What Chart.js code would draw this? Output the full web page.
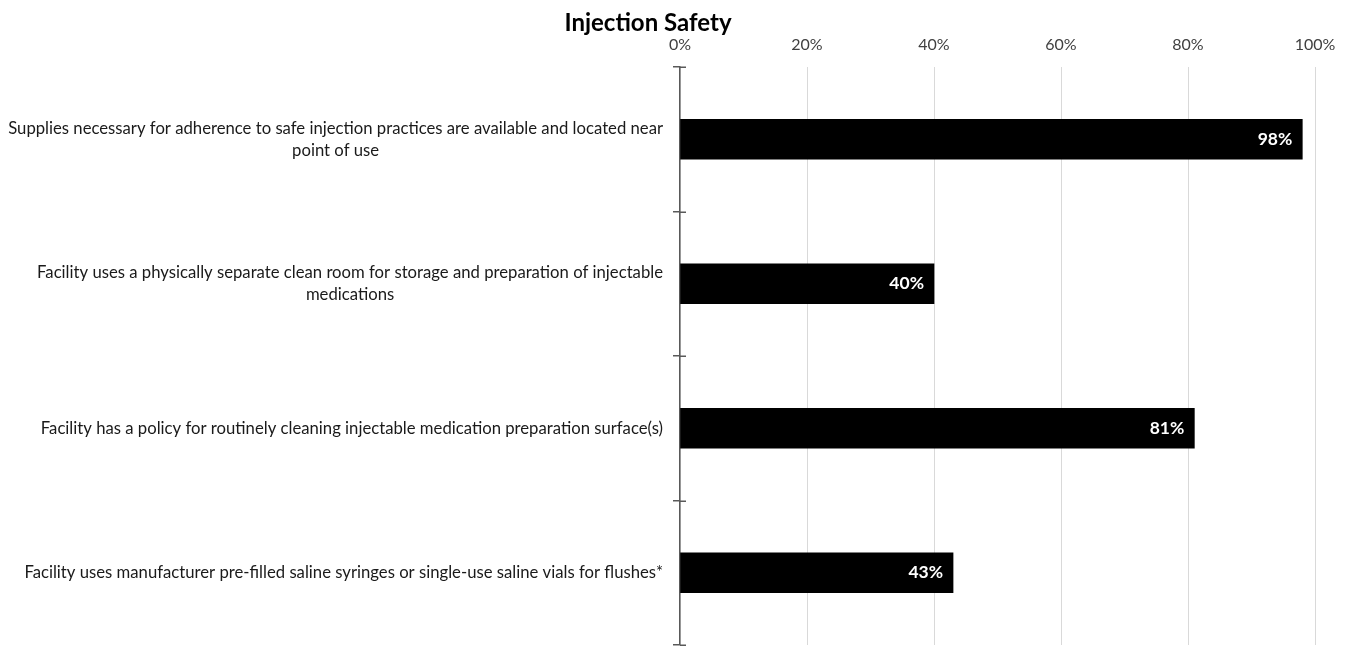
<!DOCTYPE html>
<html>
<head>
<meta charset="utf-8">
<script src="https://cdn.jsdelivr.net/npm/chart.js@4/dist/chart.umd.min.js"></script>
<style>
html,body{margin:0;padding:0;background:#fff;}
#wrap{width:1353px;height:648px;position:relative;}
</style>
</head>
<body>
<div id="wrap"><canvas id="c"></canvas></div>
<script>
const chartTitle = "Injection Safety";
const categories = [
  ["Supplies necessary for adherence to safe injection practices are available and located near", "point of use"],
  ["Facility uses a physically separate clean room for storage and preparation of injectable", "medications"],
  ["Facility has a policy for routinely cleaning injectable medication preparation surface(s)"],
  ["Facility uses manufacturer pre-filled saline syringes or single-use saline vials for flushes*"]
];
const values = [98, 40, 81, 43];
const tickValues = [0, 20, 40, 60, 80, 100];

const FONT = "Lato, 'Open Sans', sans-serif";

const labelPlugin = {
  id: 'customLabels',
  afterDraw(chart) {
    const ctx = chart.ctx;
    const y = chart.scales.y;
    const ca = chart.chartArea;
    ctx.save();
    // title
    ctx.font = "bold 24px " + FONT;
    ctx.fillStyle = "#000";
    ctx.textAlign = "center";
    ctx.textBaseline = "middle";
    ctx.fillText(chartTitle, 648, 23);
    // category labels: right-aligned block, lines centered
    ctx.font = "16.7px " + FONT;
    ctx.fillStyle = "#1a1a1a";
    const rightEdge = ca.left - 17;
    const lh = 22;
    categories.forEach((lines, i) => {
      const cy = y.getPixelForValue(i);
      const w = Math.max(...lines.map(l => ctx.measureText(l).width));
      const cx = rightEdge - w / 2;
      lines.forEach((l, j) => {
        ctx.fillText(l, cx, cy + (j - (lines.length - 1) / 2) * lh);
      });
    });
    // right-side halves of y tick marks
    ctx.strokeStyle = "#595959";
    ctx.lineWidth = 1.5;
    ctx.beginPath();
    for (let i = 0; i <= categories.length; i++) {
      const py = Math.round(y.getPixelForValue(i - 0.5)) + 0.25;
      ctx.moveTo(ca.left, py);
      ctx.lineTo(ca.left + 6, py);
    }
    ctx.stroke();
    ctx.restore();
  },
  afterDatasetsDraw(chart) {
    const ctx = chart.ctx;
    const meta = chart.getDatasetMeta(0);
    ctx.save();
    ctx.font = "bold 17.5px " + FONT;
    ctx.fillStyle = "#fff";
    ctx.textAlign = "right";
    ctx.textBaseline = "middle";
    meta.data.forEach((bar, i) => {
      ctx.fillText(values[i] + "%", bar.x - 10, bar.y);
    });
    ctx.restore();
  }
};

new Chart(document.getElementById('c'), {
  type: 'bar',
  data: {
    labels: categories,
    datasets: [{
      data: values,
      backgroundColor: '#000',
      borderWidth: 0,
      barThickness: 40
    }]
  },
  options: {
    indexAxis: 'y',
    responsive: true,
    maintainAspectRatio: false,
    animation: false,
    layout: { padding: { left: 0, right: 38, top: 0, bottom: 3 } },
    plugins: {
      legend: { display: false },
      tooltip: { enabled: false },
      title: { display: false }
    },
    scales: {
      x: {
        position: 'top',
        min: 0, max: 100,
        afterBuildTicks(scale) { scale.ticks = tickValues.map(v => ({ value: v })); },
        afterFit(scale) { scale.height = 67; },
        ticks: {
          padding: 13,
          color: '#404040',
          font: { family: FONT, size: 16 },
          callback: v => v + '%'
        },
        grid: { color: '#d9d9d9', lineWidth: 1, drawTicks: false },
        border: { display: false }
      },
      y: {
        afterFit(scale) { scale.width = 680; },
        ticks: { display: false },
        grid: { drawOnChartArea: false, drawTicks: true, tickLength: 7, offset: true, color: '#595959', lineWidth: 1.5 },
        border: { display: true, color: '#595959', width: 1.5 }
      }
    }
  },
  plugins: [labelPlugin]
});
</script>
</body>
</html>
